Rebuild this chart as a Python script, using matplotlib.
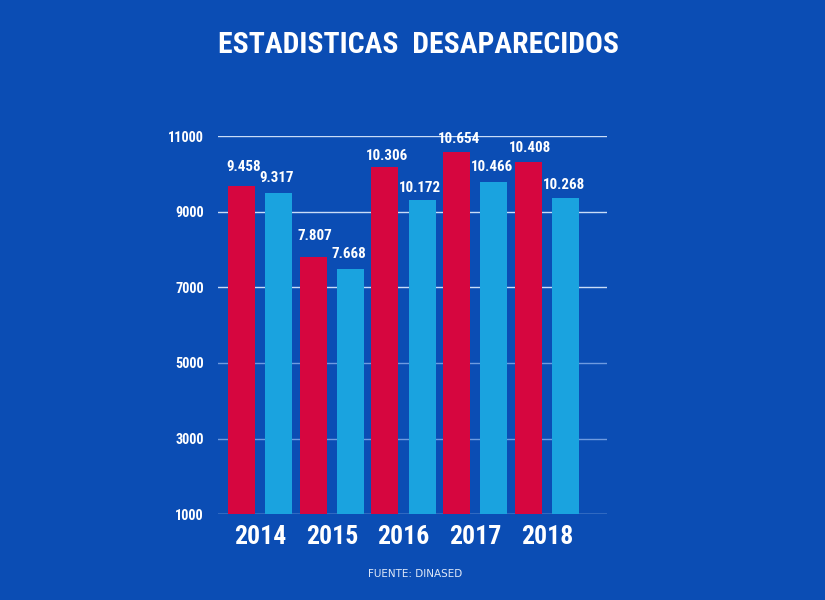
import numpy as np
import matplotlib.pyplot as plt

# datos (altura de barras y etiquetas tal cual aparecen)
years = ["2014", "2015", "2016", "2017", "2018"]
red_bars = [9690, 7810, 10180, 10580, 10310]
blue_bars = [9490, 7500, 9320, 9780, 9360]
red_labels = ["9.458", "7.807", "10.306", "10.654", "10.408"]
blue_labels = ["9.317", "7.668", "10.172", "10.466", "10.268"]
yticks = [1000, 3000, 5000, 7000, 9000, 11000]

# separacion (px) de cada etiqueta sobre su barra, como en la imagen
red_pad = [12, 14, 4, 6, 7]
blue_pad = [8, 8, 5, 8, 6]

bg = "#0b4db4"
red = "#d6063f"
light = "#1aa3df"
narrow = ["Roboto Condensed", "Liberation Sans Narrow", "Roboto", "DejaVu Sans"]

fig = plt.figure(figsize=(8.25, 6), dpi=100, facecolor=bg)
ax = fig.add_axes([0.264, 0.143, 0.472, 0.63])
ax.set_facecolor(bg)

x = np.arange(len(years))
w = 0.375
off = 0.26

for t in yticks:
    col = "#c9dcf7" if t in (1000, 7000, 9000, 11000) else "#6f9be0"
    ax.axhline(t, color=col, lw=1, zorder=0)

ax.bar(x - off, red_bars, w, color=red, zorder=2)
ax.bar(x + off, blue_bars, w, color=light, zorder=2)

# etiquetas encima de las barras
for i in range(len(years)):
    ax.annotate(red_labels[i], (x[i] - off, red_bars[i]), xytext=(2, red_pad[i]),
                textcoords="offset pixels", ha="center", va="bottom",
                color="white", fontsize=10.8, fontweight="bold", family=narrow)
    ax.annotate(blue_labels[i], (x[i] + off, blue_bars[i]), xytext=(-2, blue_pad[i]),
                textcoords="offset pixels", ha="center", va="bottom",
                color="white", fontsize=10.8, fontweight="bold", family=narrow)

ax.set_ylim(1000, 11000)
ax.set_xlim(-0.59, 4.84)
ax.set_yticks(yticks)
ax.set_yticklabels([str(t) for t in yticks], color="white", fontsize=10.3,
                   fontweight="bold", family=narrow)
ax.set_xticks(x)
ax.set_xticklabels(years, color="white", fontsize=18.5, fontweight="bold",
                   family=narrow)
ax.tick_params(axis="y", length=0, pad=10)
ax.tick_params(axis="x", length=0, pad=8)
for s in ax.spines.values():
    s.set_visible(False)

fig.text(0.507, 0.925, "ESTADISTICAS  DESAPARECIDOS", ha="center", va="center",
         color="white", fontsize=21.3, fontweight="bold", family=narrow)
fig.text(0.503, 0.043, "FUENTE: DINASED", ha="center", va="center",
         color="#dfe8f7", fontsize=7.5)

fig.savefig("out.png", dpi=100, facecolor=bg)
